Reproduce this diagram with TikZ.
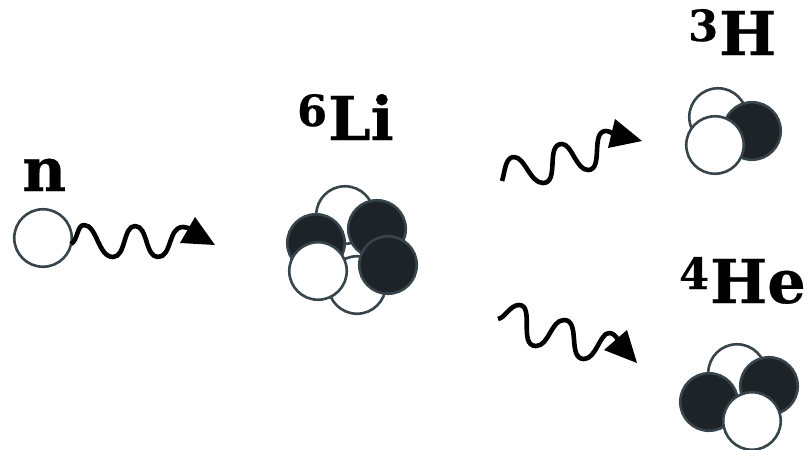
\documentclass[tikz,border=0pt]{standalone}
\usepackage{fontspec}
\setmainfont{DejaVu Serif}[BoldFont={DejaVu Serif Bold},BoldFeatures={FakeBold=0.5}]
\definecolor{rim}{HTML}{37444B}
\definecolor{core}{HTML}{1D2327}
\newcommand{\isotope}[2]{\raisebox{14pt}{\fontsize{43}{43}\selectfont #1}\kern1pt #2}
\tikzset{
  nucleon/.style={circle,draw=rim,line width=2.6pt,minimum size=57.5pt,inner sep=0pt,outer sep=0pt},
  neutron/.style={nucleon,fill=white},
  proton/.style={nucleon,fill=core},
  label text/.style={anchor=base west,inner sep=0pt,font=\fontsize{60.5}{60}\selectfont\bfseries,text=black},
  wave/.style={line width=4.6pt,black,line cap=butt,line join=round},
  head/.style={fill=black,draw=none}
}
\begin{document}
\begin{tikzpicture}[x=1pt,y=-1pt]
\useasboundingbox (0,0) rectangle (812,450);

% incoming neutron
\node[label text] (ntext) at (22,191) {n};
\node[neutron] (n) at (43,238) {};
\coordinate (n1) at (197,236);
\draw[wave] (71,244) .. controls (78,240) and (77,225) .. (84,225)
  .. controls (97,225) and (98,257) .. (113,257)
  .. controls (126,257) and (123,226) .. (135,226)
  .. controls (148,226) and (145,257) .. (158,257)
  .. controls (172,257) and (168,227) .. (183,227)
  .. controls (190,227) and (194,232) .. (n1);
\fill[head] (195,217) -- (215,245) -- (180,243) -- cycle;

% lithium-6 cluster
\node[label text] (litext) at (297,140) {\isotope{6}{Li}};
\node[neutron] (li1) at (345,215) {};
\node[neutron] (li2) at (357,285) {};
\node[proton] (li3) at (316,243) {};
\node[proton] (li4) at (377,229) {};
\node[neutron] (li5) at (318,271) {};
\node[proton] (li6) at (388,265) {};

% wave towards tritium
\coordinate (a0) at (502,181);
\coordinate (a1) at (613,134);
\draw[wave] (a0) .. controls (505,172) and (505,157) .. (514,157)
  .. controls (525,157) and (530,183) .. (543,183)
  .. controls (560,183) and (545,144) .. (562,144)
  .. controls (572,144) and (576,170) .. (588,170)
  .. controls (604,170) and (590,131) .. (606,131)
  .. controls (609,131) and (611,132) .. (a1);
\fill[head] (615,119) -- (642,141) -- (608,148) -- cycle;

% tritium cluster
\node[label text] (htext) at (688,55) {\isotope{3}{H}};
\node[neutron] (h1) at (718,117) {};
\node[proton] (h2) at (752,131) {};
\node[neutron] (h3) at (715,145) {};

% wave towards helium-4
\coordinate (b0) at (498,319);
\coordinate (b1) at (618,340);
\draw[wave] (b0) .. controls (505,318) and (510,305) .. (519,305)
  .. controls (535,305) and (518,346) .. (536,346)
  .. controls (549,346) and (551,320) .. (564,320)
  .. controls (581,320) and (567,359) .. (584,359)
  .. controls (596,359) and (600,333) .. (609,333)
  .. controls (613,333) and (616,336) .. (b1);
\fill[head] (627,330) -- (637,363) -- (604,350) -- cycle;

% helium-4 cluster
\node[label text] (hetext) at (679,303) {\isotope{4}{He}};
\node[neutron] (he1) at (737,373) {};
\node[proton] (he2) at (709,402) {};
\node[proton] (he3) at (769,386) {};
\node[neutron] (he4) at (752,421) {};
\end{tikzpicture}
\end{document}
